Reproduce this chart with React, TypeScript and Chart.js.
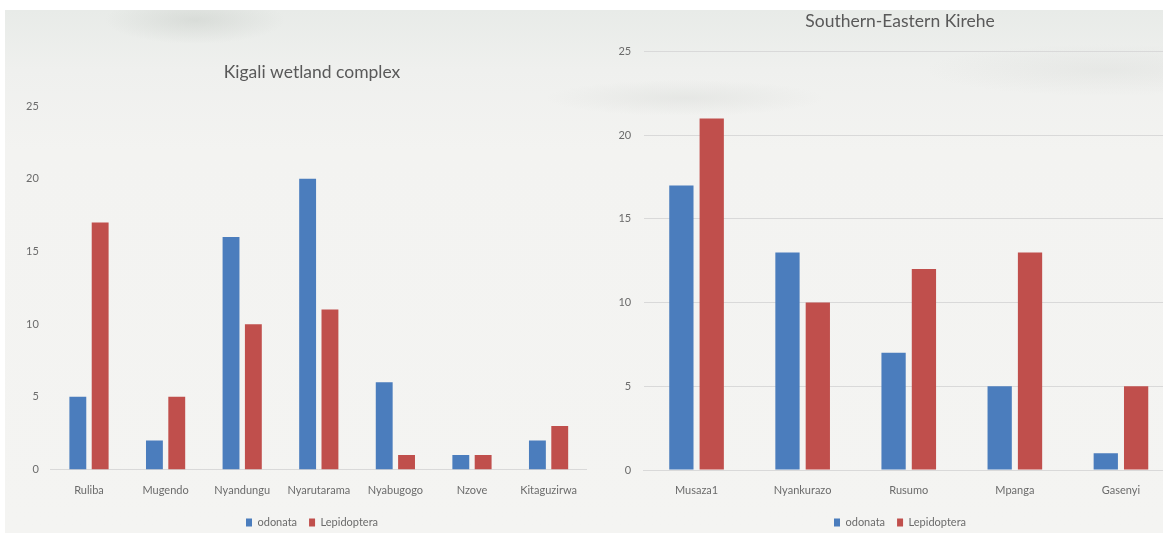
import { useEffect, useRef } from "react";
import { Chart, registerables } from "chart.js";

Chart.register(...registerables);

// Species counts per site, Kigali wetland complex
const kigaliSites = ["Ruliba", "Mugendo", "Nyandungu", "Nyarutarama", "Nyabugogo", "Nzove", "Kitaguzirwa"];
const kigaliOdonata = [5, 2, 16, 20, 6, 1, 2];
const kigaliLepidoptera = [17, 5, 10, 11, 1, 1, 3];

// Species counts per site, Southern-Eastern Kirehe
const kireheSites = ["Musaza1", "Nyankurazo", "Rusumo", "Mpanga", "Gasenyi"];
const kireheOdonata = [17, 13, 7, 5, 1];
const kireheLepidoptera = [21, 10, 12, 13, 5];

const seriesNames = ["odonata", "Lepidoptera"];
const yMin = 0;
const yMax = 25;
const yStep = 5;

const BLUE = "#4b7dbd";
const RED = "#c04f4c";
const FONT = "Lato, 'Open Sans', sans-serif";

type PanelSpec = {
  title: string;
  sites: string[];
  odonata: number[];
  lepidoptera: number[];
  width: number;
  height: number;
  padLeft: number;
  axisWidth: number;
  labelGap: number;
  titleTop: number;
  titleBottom: number;
  xAxisHeight: number;
  gridLines: boolean;
  categoryPercentage: number;
  barPercentage: number;
};

function buildConfig(p: PanelSpec): any {
  return {
    type: "bar",
    data: {
      labels: p.sites,
      datasets: [
        {
          label: seriesNames[0],
          data: p.odonata,
          backgroundColor: BLUE,
          borderWidth: 0,
          categoryPercentage: p.categoryPercentage,
          barPercentage: p.barPercentage,
        },
        {
          label: seriesNames[1],
          data: p.lepidoptera,
          backgroundColor: RED,
          borderWidth: 0,
          categoryPercentage: p.categoryPercentage,
          barPercentage: p.barPercentage,
        },
      ],
    },
    options: {
      responsive: false,
      animation: false,
      devicePixelRatio: 1,
      layout: { padding: { left: p.padLeft, right: 0, top: 0, bottom: 0 } },
      plugins: {
        title: {
          display: true,
          text: p.title,
          color: "#595959",
          font: { family: FONT, size: 17.5, weight: "normal", lineHeight: 1.2 },
          padding: { top: p.titleTop, bottom: p.titleBottom },
        },
        legend: {
          display: true,
          position: "bottom",
          labels: {
            boxWidth: 6,
            boxHeight: 8,
            padding: 12,
            color: "#6b6b6b",
            font: { family: FONT, size: 11 },
          },
        },
        tooltip: { enabled: false },
      },
      scales: {
        x: {
          grid: { display: false, drawTicks: false },
          border: { display: true, color: "#d9d9d9", width: 1 },
          ticks: {
            color: "#6b6b6b",
            font: { family: FONT, size: 11 },
            padding: 14,
            maxRotation: 0,
            autoSkip: false,
          },
          afterFit: (scale: any) => {
            scale.height = p.xAxisHeight;
          },
        },
        y: {
          min: yMin,
          max: yMax,
          grid: {
            display: p.gridLines,
            drawTicks: false,
            color: "#d9d9d9",
            lineWidth: 1,
          },
          border: { display: false },
          ticks: {
            stepSize: yStep,
            color: "#6b6b6b",
            font: { family: FONT, size: 11 },
            // labels sit to the left of the plot, right-aligned
            mirror: true,
            crossAlign: "far",
            padding: -p.labelGap - 12.6,
          },
          afterFit: (scale: any) => {
            scale.width = p.axisWidth;
          },
        },
      },
    },
  };
}

const kigaliPanel: PanelSpec = {
  title: "Kigali wetland complex",
  sites: kigaliSites,
  odonata: kigaliOdonata,
  lepidoptera: kigaliLepidoptera,
  width: 591,
  height: 538,
  padLeft: 33,
  axisWidth: 17.7,
  labelGap: 12,
  titleTop: 61.6,
  titleBottom: 23.5,
  xAxisHeight: 35.5,
  gridLines: false,
  categoryPercentage: 0.583,
  barPercentage: 0.756,
};

const kirehePanel: PanelSpec = {
  title: "Southern-Eastern Kirehe",
  sites: kireheSites,
  odonata: kireheOdonata,
  lepidoptera: kireheLepidoptera,
  width: 574,
  height: 538,
  padLeft: 26,
  axisWidth: 17.5,
  labelGap: 12.5,
  titleTop: 11,
  titleBottom: 19.5,
  xAxisHeight: 35,
  gridLines: true,
  categoryPercentage: 0.572,
  barPercentage: 0.8,
};

function BarPanel({ spec, left }: { spec: PanelSpec; left: number }) {
  const ref = useRef<HTMLCanvasElement | null>(null);
  useEffect(() => {
    if (!ref.current) return;
    const chart = new Chart(ref.current, buildConfig(spec));
    return () => chart.destroy();
  }, [spec]);
  return (
    <canvas
      ref={ref}
      width={spec.width}
      height={spec.height}
      style={{ position: "absolute", left, top: 0, width: spec.width, height: spec.height }}
    />
  );
}

export default function App() {
  return (
    <div
      style={{
        position: "fixed",
        left: 0,
        top: 0,
        width: 1163,
        height: 535,
        overflow: "hidden",
        background: "#ffffff",
      }}
    >
      <div
        style={{
          position: "absolute",
          left: 5,
          top: 10,
          right: 0,
          bottom: 2,
          background: [
            "radial-gradient(ellipse 90px 24px at 190px 10px, rgba(150,158,150,0.20), rgba(150,158,150,0) 100%)",
            "radial-gradient(ellipse 140px 18px at 680px 88px, rgba(165,170,165,0.14), rgba(165,170,165,0) 100%)",
            "radial-gradient(ellipse 180px 26px at 1100px 60px, rgba(170,175,170,0.12), rgba(170,175,170,0) 100%)",
            "linear-gradient(#e8ebe8 0px, #eff0ee 60px, #f3f3f1 140px, #f4f4f2 100%)",
          ].join(","),
        }}
      />
      <BarPanel spec={kigaliPanel} left={0} />
      <BarPanel spec={kirehePanel} left={600} />
    </div>
  );
}
